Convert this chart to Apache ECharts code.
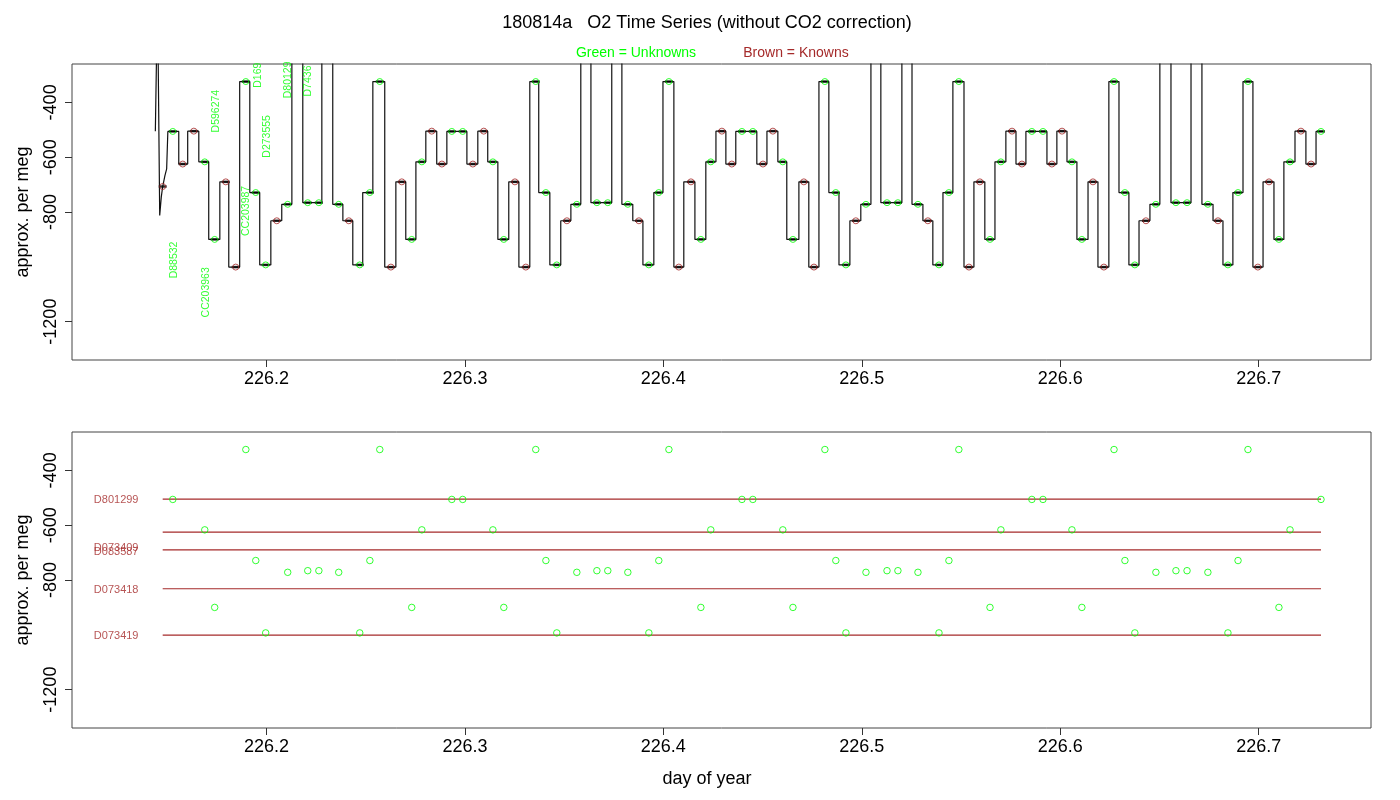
<!DOCTYPE html>
<html lang="en">
<head>
    <meta charset="UTF-8">
    <title>180814a O2 Time Series</title>
    <script type="text/javascript" src="https://cdn.jsdelivr.net/npm/echarts@6/dist/echarts.min.js"></script>
    <style>
        html, body { margin: 0; padding: 0; background: #fff; }
    </style>
</head>
<body>
<div id="div_echars" style="width: 1400px;height:800px;"></div>
<script type="text/javascript">
    // 进样开始的那一小段（启动时的尖峰和回落）
    const leadTimes = [226.1440, 226.1450, 226.1451, 226.1452, 226.1462, 226.1470, 226.1477, 226.1488, 226.1497];
    const leadLevels = [-505, -505, 0, 0, -813, -745, -707, -668, -643];

    // 每个平台开始的时间和平台值（0 = 跑出图外的尖峰）
    const stepTimes = [
        226.1503, 226.1558, 226.1603, 226.1659, 226.1709, 226.1765, 226.1810, 226.1865, 226.1916, 226.1966,
        226.2022, 226.2077, 226.2128, 226.2183, 226.2279, 226.2334, 226.2385, 226.2435, 226.2485, 226.2536,
        226.2596, 226.2652, 226.2702, 226.2753, 226.2803, 226.2858, 226.2909, 226.3010, 226.3065, 226.3115,
        226.3166, 226.3221, 226.3272, 226.3327, 226.3372, 226.3428, 226.3483, 226.3534, 226.3584, 226.3635,
        226.3740, 226.3791, 226.3846, 226.3897, 226.3952, 226.3998, 226.4053, 226.4103, 226.4159, 226.4214,
        226.4265, 226.4315, 226.4365, 226.4471, 226.4522, 226.4577, 226.4622, 226.4683, 226.4733, 226.4784,
        226.4834, 226.4885, 226.4940, 226.4995, 226.5046, 226.5096, 226.5202, 226.5253, 226.5308, 226.5358,
        226.5409, 226.5459, 226.5515, 226.5565, 226.5620, 226.5671, 226.5726, 226.5777, 226.5827, 226.5933,
        226.5983, 226.6034, 226.6084, 226.6140, 226.6190, 226.6245, 226.6296, 226.6346, 226.6397, 226.6452,
        226.6502, 226.6558, 226.6659, 226.6714, 226.6770, 226.6820, 226.6870, 226.6921, 226.6971, 226.7022,
        226.7077, 226.7127, 226.7183, 226.7238, 226.7289
    ];
    const stepLevels = [
        -506, -625, -505, -617, -900, -690, -1001, -324, -729, -993,
        -832, -772, 0, -766, 0, -772, -832, -993, -729, -324,
        -1001, -690, -900, -617, -505, -625, -506, -625, -505, -617,
        -900, -690, -1001, -324, -729, -993, -832, -772, 0, -766,
        0, -772, -832, -993, -729, -324, -1001, -690, -900, -617,
        -505, -625, -506, -625, -505, -617, -900, -690, -1001, -324,
        -729, -993, -832, -772, 0, -766, 0, -772, -832, -993,
        -729, -324, -1001, -690, -900, -617, -505, -625, -506, -625,
        -505, -617, -900, -690, -1001, -324, -729, -993, -832, -772,
        0, -766, 0, -772, -832, -993, -729, -324, -1001, -690,
        -900, -617, -505, -625, -506
    ];
    const traceEnd = 226.7324;

    // 未知样（绿色）
    const unkTimes = [
        226.1528, 226.1689, 226.1739, 226.1896, 226.1946, 226.1996, 226.2107, 226.2208, 226.2264, 226.2364,
        226.2470, 226.2521, 226.2571, 226.2732, 226.2783, 226.2934, 226.2989, 226.3141, 226.3196, 226.3357,
        226.3408, 226.3463, 226.3564, 226.3665, 226.3720, 226.3821, 226.3927, 226.3977, 226.4028, 226.4189,
        226.4239, 226.4396, 226.4451, 226.4602, 226.4653, 226.4814, 226.4869, 226.4920, 226.5021, 226.5127,
        226.5182, 226.5283, 226.5389, 226.5439, 226.5489, 226.5646, 226.5701, 226.5857, 226.5913, 226.6059,
        226.6109, 226.6271, 226.6326, 226.6376, 226.6482, 226.6583, 226.6639, 226.6744, 226.6845, 226.6896,
        226.6946, 226.7102, 226.7158, 226.7314
    ];
    const unkValues = [
        -506, -617, -900, -324, -729, -993, -772, -766, -766, -772,
        -993, -729, -324, -900, -617, -506, -506, -617, -900, -324,
        -729, -993, -772, -766, -766, -772, -993, -729, -324, -900,
        -617, -506, -506, -617, -900, -324, -729, -993, -772, -766,
        -766, -772, -993, -729, -324, -900, -617, -506, -506, -617,
        -900, -324, -729, -993, -772, -766, -766, -772, -993, -729,
        -324, -900, -617, -506
    ];

    // 已知样（棕色）
    const knownTimes = [
        226.1477, 226.1578, 226.1634, 226.1795, 226.1845, 226.2052, 226.2415, 226.2627, 226.2682, 226.2833,
        226.2884, 226.3040, 226.3095, 226.3252, 226.3307, 226.3514, 226.3877, 226.4078, 226.4139, 226.4295,
        226.4345, 226.4502, 226.4552, 226.4708, 226.4759, 226.4970, 226.5333, 226.5540, 226.5595, 226.5757,
        226.5807, 226.5958, 226.6009, 226.6165, 226.6220, 226.6432, 226.6795, 226.6996, 226.7052, 226.7213,
        226.7264
    ];
    const knownValues = [
        -707, -625, -505, -690, -1001, -832, -832, -1001, -690, -505,
        -625, -625, -505, -690, -1001, -832, -832, -1001, -690, -505,
        -625, -625, -505, -690, -1001, -832, -832, -1001, -690, -505,
        -625, -625, -505, -690, -1001, -832, -832, -1001, -690, -505,
        -625
    ];

    // 上图竖排的样品名
    const sampleNames = ['D88532', 'CC203963', 'D596274', 'CC203987', 'D169', 'D273555', 'D80129', 'D7436'];
    const sampleNameTimes = [226.1533, 226.1694, 226.1748, 226.1896, 226.1956, 226.2002, 226.2107, 226.2208];
    const sampleNameValues = [-975, -1093, -432, -796, -301, -524, -318, -322];

    // 下图已知样的参考线和名字
    const refStart = 226.1477;
    const refEnd = 226.7314;
    const refLevels = [-505, -625, -690, -832, -1001];
    const refNames = ['D801299', 'D073409', 'D083587', 'D073418', 'D073419'];
    const refNameValues = [-507, -684, -697, -836, -1003];
    const refNameTime = 226.1130;

    const xTicks = [226.2, 226.3, 226.4, 226.5, 226.6, 226.7];
    const yTicks = [-1200, -800, -600, -400];

    const GREEN = '#00ff00';
    const BROWN = '#a52a2a';
    const FONT = 'Liberation Sans, Arial, Helvetica, sans-serif';

    function init() {
        // 折线：先接上开头那段，然后每个平台画成水平段 + 竖直跳变
        let trace = [];
        for (let i = 0; i < leadTimes.length; i++) {
            trace.push([leadTimes[i], leadLevels[i]]);
        }
        for (let i = 0; i < stepTimes.length; i++) {
            let tEnd = i + 1 < stepTimes.length ? stepTimes[i + 1] : traceEnd;
            trace.push([stepTimes[i], stepLevels[i]]);
            trace.push([tEnd, stepLevels[i]]);
        }
        let unk = unkTimes.map((t, i) => [t, unkValues[i]]);
        let known = knownTimes.map((t, i) => [t, knownValues[i]]);
        let dots = unk.concat(known);
        let names = sampleNames.map((n, i) => ({name: n, value: [sampleNameTimes[i], sampleNameValues[i]]}));
        let refNameData = refNames.map((n, i) => ({name: n, value: [refNameTime, refNameValues[i]]}));

        function xAxis(idx) {
            return {
                type: 'value', gridIndex: idx, min: 226.102, max: 226.7566,
                axisLine: {show: false},
                splitLine: {show: false},
                axisTick: {show: true, length: 7, customValues: xTicks, lineStyle: {color: '#333'}},
                axisLabel: {
                    customValues: xTicks, margin: 10, color: '#000', fontSize: 18, fontFamily: FONT,
                    formatter: v => v.toFixed(1)
                }
            };
        }

        function yAxis(idx) {
            return {
                type: 'value', gridIndex: idx, min: -1340, max: -260,
                axisLine: {show: false},
                splitLine: {show: false},
                axisTick: {show: true, length: 7, customValues: yTicks, lineStyle: {color: '#333'}},
                axisLabel: {
                    customValues: yTicks, rotate: 90, margin: 12, color: '#000', fontSize: 18, fontFamily: FONT,
                    formatter: v => String(Math.round(v))
                }
            };
        }

        var myChart = echarts.init(document.getElementById('div_echars'));
        option = {
            animation: false,
            backgroundColor: '#fff',
            grid: [
                {left: 72, top: 64, width: 1299, height: 296, show: true, borderColor: '#444', borderWidth: 1},
                {left: 72, top: 432, width: 1299, height: 296, show: true, borderColor: '#444', borderWidth: 1}
            ],
            xAxis: [xAxis(0), xAxis(1)],
            yAxis: [yAxis(0), yAxis(1)],
            graphic: [
                {
                    type: 'text', x: 707, y: 23,
                    style: {
                        text: '180814a   O2 Time Series (without CO2 correction)', fill: '#000',
                        font: '18px ' + FONT, textAlign: 'center', textVerticalAlign: 'middle'
                    }
                },
                {
                    type: 'text', x: 636, y: 53,
                    style: {
                        text: 'Green = Unknowns', fill: GREEN, font: '14px ' + FONT,
                        textAlign: 'center', textVerticalAlign: 'middle'
                    }
                },
                {
                    type: 'text', x: 796, y: 53,
                    style: {
                        text: 'Brown = Knowns', fill: BROWN, font: '14px ' + FONT,
                        textAlign: 'center', textVerticalAlign: 'middle'
                    }
                },
                {
                    type: 'text', x: 23, y: 212, rotation: Math.PI / 2,
                    style: {
                        text: 'approx. per meg', fill: '#000', font: '18px ' + FONT,
                        textAlign: 'center', textVerticalAlign: 'middle'
                    }
                },
                {
                    type: 'text', x: 23, y: 580, rotation: Math.PI / 2,
                    style: {
                        text: 'approx. per meg', fill: '#000', font: '18px ' + FONT,
                        textAlign: 'center', textVerticalAlign: 'middle'
                    }
                },
                {
                    type: 'text', x: 707, y: 779,
                    style: {
                        text: 'day of year', fill: '#000', font: '18px ' + FONT,
                        textAlign: 'center', textVerticalAlign: 'middle'
                    }
                }
            ],
            series: [
                {
                    name: 'trace', type: 'line', xAxisIndex: 0, yAxisIndex: 0,
                    data: trace, showSymbol: false, clip: true,
                    lineStyle: {color: '#111', width: 1.2}, z: 2
                },
                {
                    name: 'plateau', type: 'scatter', xAxisIndex: 0, yAxisIndex: 0,
                    data: dots, symbol: 'rect', symbolSize: [8, 2.5],
                    itemStyle: {color: '#000'}, z: 3
                },
                {
                    name: 'unknowns', type: 'scatter', xAxisIndex: 0, yAxisIndex: 0,
                    data: unk, symbol: 'circle', symbolSize: 6,
                    itemStyle: {color: 'rgba(0,0,0,0)', borderColor: GREEN, borderWidth: 1}, z: 4
                },
                {
                    name: 'knowns', type: 'scatter', xAxisIndex: 0, yAxisIndex: 0,
                    data: known, symbol: 'circle', symbolSize: 6,
                    itemStyle: {color: 'rgba(0,0,0,0)', borderColor: BROWN, borderWidth: 1}, z: 4
                },
                {
                    name: 'names', type: 'scatter', xAxisIndex: 0, yAxisIndex: 0,
                    data: names, symbolSize: 0, z: 5,
                    label: {
                        show: true, position: 'inside', rotate: 90, formatter: '{b}',
                        color: GREEN, fontSize: 10.5, fontFamily: FONT,
                        align: 'center', verticalAlign: 'middle'
                    }
                }
            ].concat(refLevels.map((v, i) => ({
                name: 'ref' + i, type: 'line', xAxisIndex: 1, yAxisIndex: 1,
                data: [[refStart, v], [refEnd, v]], showSymbol: false,
                lineStyle: {color: BROWN, width: 1.2}, z: 2
            }))).concat([
                {
                    name: 'unknowns2', type: 'scatter', xAxisIndex: 1, yAxisIndex: 1,
                    data: unk, symbol: 'circle', symbolSize: 6.5,
                    itemStyle: {color: 'rgba(0,0,0,0)', borderColor: GREEN, borderWidth: 1}, z: 4
                },
                {
                    name: 'refNames', type: 'scatter', xAxisIndex: 1, yAxisIndex: 1,
                    data: refNameData, symbolSize: 0, z: 5,
                    label: {
                        show: true, position: 'right', distance: 0, formatter: '{b}',
                        color: BROWN, fontSize: 11, fontFamily: FONT
                    }
                }
            ])
        };
        myChart.setOption(option);
    }

    init();
</script>
</body>
</html>
